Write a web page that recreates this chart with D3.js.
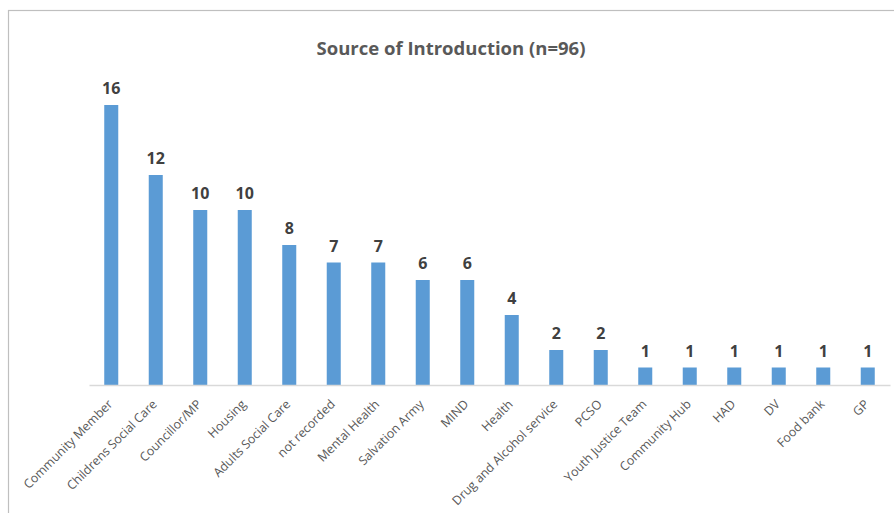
<!DOCTYPE html>
<html>
<head>
<meta charset="utf-8">
<script src="https://cdn.jsdelivr.net/npm/d3@7"></script>
<style>
  html, body { margin: 0; padding: 0; background: #fff; }
  svg { display: block; }
</style>
</head>
<body>
<svg id="chart" width="894" height="513"></svg>
<script>
// Referral sources and counts
const categories = [
  "Community Member", "Childrens Social Care", "Councillor/MP", "Housing",
  "Adults Social Care", "not recorded", "Mental Health", "Salvation Army",
  "MIND", "Health", "Drug and Alcohol service", "PCSO", "Youth Justice Team",
  "Community Hub", "HAD", "DV", "Food bank", "GP"
];
const counts = [16, 12, 10, 10, 8, 7, 7, 6, 6, 4, 2, 2, 1, 1, 1, 1, 1, 1];
const titleText = "Source of Introduction (n=96)";

const data = categories.map((c, i) => ({ category: c, value: counts[i] }));

const svg = d3.select("#chart");
const font = "'Open Sans', 'Noto Sans', sans-serif";

// chart frame
svg.append("rect")
  .attr("x", 8.5).attr("y", 10.5)
  .attr("width", 900).attr("height", 520)
  .attr("fill", "#fff")
  .attr("stroke", "#BFBFBF").attr("stroke-width", 1.2);

const plot = { left: 89, right: 890, top: 70, bottom: 385 };

const x = d3.scaleBand()
  .domain(categories)
  .range([plot.left, plot.right])
  .paddingInner(0.685)
  .paddingOuter(0.3425);

const y = d3.scaleLinear()
  .domain([0, 18])
  .range([plot.bottom, plot.top]);

// title
svg.append("text")
  .attr("x", 451).attr("y", 55)
  .attr("text-anchor", "middle")
  .attr("font-family", font)
  .attr("font-weight", "bold")
  .attr("font-size", 18.5)
  .attr("fill", "#595959")
  .text(titleText);

// bars
svg.append("g").selectAll("rect")
  .data(data)
  .join("rect")
  .attr("x", d => x(d.category))
  .attr("y", d => y(d.value))
  .attr("width", x.bandwidth())
  .attr("height", d => y(0) - y(d.value))
  .attr("fill", "#5B9BD5");

// value labels
svg.append("g").selectAll("text")
  .data(data)
  .join("text")
  .attr("x", d => x(d.category) + x.bandwidth() / 2)
  .attr("y", d => y(d.value) - 11)
  .attr("text-anchor", "middle")
  .attr("font-family", font)
  .attr("font-weight", "bold")
  .attr("font-size", 16)
  .attr("fill", "#404040")
  .text(d => d.value);

// category axis
const axis = d3.axisBottom(x).tickSize(0).tickSizeOuter(0);
const gx = svg.append("g")
  .attr("transform", `translate(0,${plot.bottom})`)
  .call(axis);
gx.select(".domain").attr("stroke", "#D9D9D9").attr("stroke-width", 1.5);
gx.selectAll(".tick text")
  .attr("font-family", font)
  .attr("font-size", 12.4)
  .attr("fill", "#595959")
  .attr("text-anchor", "end")
  .attr("dy", null)
  .attr("y", null)
  .attr("transform", "translate(2,20) rotate(-45)");
</script>
</body>
</html>
